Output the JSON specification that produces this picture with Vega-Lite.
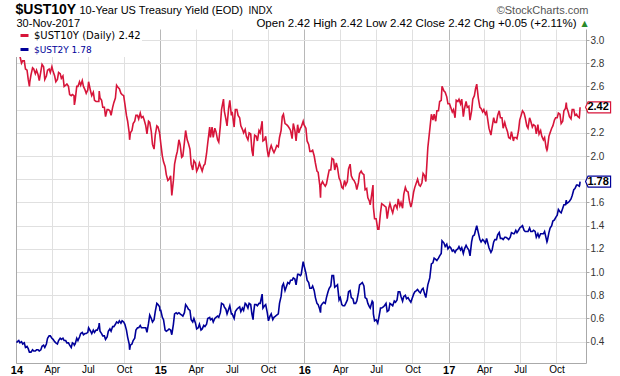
{
  "$schema": "https://vega.github.io/schema/vega-lite/v6.json",
  "width": 570,
  "height": 334,
  "autosize": {"type": "none"},
  "padding": {"left": 16, "top": 29, "right": 34, "bottom": 13},
  "background": "#ffffff",
  "config": {
    "view": {"stroke": null},
    "font": "Liberation Sans",
    "axis": {"labelFont": "Liberation Sans", "titleFont": "Liberation Sans"}
  },
  "data": {
    "format": {"parse": {"date": "date"}},
    "values": [
      {"date":"2014-01-02","y10":3.00,"y2":0.39},
      {"date":"2014-01-03","y10":3.01,"y2":0.40},
      {"date":"2014-01-07","y10":2.94,"y2":0.41},
      {"date":"2014-01-10","y10":2.86,"y2":0.39},
      {"date":"2014-01-14","y10":2.80,"y2":0.40},
      {"date":"2014-01-17","y10":2.82,"y2":0.38},
      {"date":"2014-01-21","y10":2.82,"y2":0.39},
      {"date":"2014-01-24","y10":2.75,"y2":0.35},
      {"date":"2014-01-28","y10":2.74,"y2":0.36},
      {"date":"2014-01-31","y10":2.66,"y2":0.34},
      {"date":"2014-02-03","y10":2.60,"y2":0.31},
      {"date":"2014-02-04","y10":2.64,"y2":0.31},
      {"date":"2014-02-07","y10":2.70,"y2":0.31},
      {"date":"2014-02-11","y10":2.76,"y2":0.33},
      {"date":"2014-02-14","y10":2.75,"y2":0.32},
      {"date":"2014-02-18","y10":2.71,"y2":0.32},
      {"date":"2014-02-21","y10":2.74,"y2":0.33},
      {"date":"2014-02-25","y10":2.70,"y2":0.33},
      {"date":"2014-02-28","y10":2.65,"y2":0.32},
      {"date":"2014-03-04","y10":2.73,"y2":0.33},
      {"date":"2014-03-07","y10":2.79,"y2":0.36},
      {"date":"2014-03-11","y10":2.77,"y2":0.37},
      {"date":"2014-03-14","y10":2.66,"y2":0.35},
      {"date":"2014-03-18","y10":2.69,"y2":0.38},
      {"date":"2014-03-21","y10":2.74,"y2":0.43},
      {"date":"2014-03-25","y10":2.75,"y2":0.45},
      {"date":"2014-03-28","y10":2.72,"y2":0.45},
      {"date":"2014-04-01","y10":2.77,"y2":0.43},
      {"date":"2014-04-04","y10":2.73,"y2":0.42},
      {"date":"2014-04-08","y10":2.69,"y2":0.40},
      {"date":"2014-04-11","y10":2.64,"y2":0.39},
      {"date":"2014-04-15","y10":2.66,"y2":0.38},
      {"date":"2014-04-18","y10":2.72,"y2":0.41},
      {"date":"2014-04-22","y10":2.71,"y2":0.43},
      {"date":"2014-04-25","y10":2.67,"y2":0.42},
      {"date":"2014-04-29","y10":2.69,"y2":0.43},
      {"date":"2014-05-02","y10":2.60,"y2":0.41},
      {"date":"2014-05-06","y10":2.61,"y2":0.41},
      {"date":"2014-05-09","y10":2.62,"y2":0.39},
      {"date":"2014-05-13","y10":2.60,"y2":0.39},
      {"date":"2014-05-16","y10":2.53,"y2":0.37},
      {"date":"2014-05-20","y10":2.52,"y2":0.35},
      {"date":"2014-05-23","y10":2.53,"y2":0.39},
      {"date":"2014-05-27","y10":2.52,"y2":0.38},
      {"date":"2014-05-28","y10":2.44,"y2":0.37},
      {"date":"2014-05-30","y10":2.48,"y2":0.38},
      {"date":"2014-06-03","y10":2.60,"y2":0.43},
      {"date":"2014-06-06","y10":2.60,"y2":0.41},
      {"date":"2014-06-10","y10":2.64,"y2":0.44},
      {"date":"2014-06-13","y10":2.61,"y2":0.47},
      {"date":"2014-06-17","y10":2.65,"y2":0.48},
      {"date":"2014-06-20","y10":2.60,"y2":0.46},
      {"date":"2014-06-24","y10":2.57,"y2":0.47},
      {"date":"2014-06-27","y10":2.54,"y2":0.47},
      {"date":"2014-07-01","y10":2.57,"y2":0.48},
      {"date":"2014-07-03","y10":2.64,"y2":0.52},
      {"date":"2014-07-08","y10":2.56,"y2":0.49},
      {"date":"2014-07-11","y10":2.52,"y2":0.47},
      {"date":"2014-07-15","y10":2.55,"y2":0.50},
      {"date":"2014-07-18","y10":2.48,"y2":0.48},
      {"date":"2014-07-22","y10":2.47,"y2":0.50},
      {"date":"2014-07-25","y10":2.47,"y2":0.50},
      {"date":"2014-07-29","y10":2.47,"y2":0.53},
      {"date":"2014-07-30","y10":2.56,"y2":0.56},
      {"date":"2014-08-01","y10":2.50,"y2":0.49},
      {"date":"2014-08-05","y10":2.48,"y2":0.47},
      {"date":"2014-08-08","y10":2.42,"y2":0.45},
      {"date":"2014-08-12","y10":2.42,"y2":0.45},
      {"date":"2014-08-15","y10":2.34,"y2":0.42},
      {"date":"2014-08-19","y10":2.40,"y2":0.44},
      {"date":"2014-08-22","y10":2.40,"y2":0.49},
      {"date":"2014-08-26","y10":2.39,"y2":0.51},
      {"date":"2014-08-29","y10":2.35,"y2":0.49},
      {"date":"2014-09-02","y10":2.42,"y2":0.53},
      {"date":"2014-09-05","y10":2.46,"y2":0.53},
      {"date":"2014-09-09","y10":2.50,"y2":0.55},
      {"date":"2014-09-12","y10":2.61,"y2":0.57},
      {"date":"2014-09-16","y10":2.59,"y2":0.56},
      {"date":"2014-09-19","y10":2.58,"y2":0.58},
      {"date":"2014-09-23","y10":2.54,"y2":0.56},
      {"date":"2014-09-26","y10":2.53,"y2":0.58},
      {"date":"2014-09-30","y10":2.52,"y2":0.57},
      {"date":"2014-10-03","y10":2.45,"y2":0.55},
      {"date":"2014-10-07","y10":2.35,"y2":0.50},
      {"date":"2014-10-10","y10":2.30,"y2":0.44},
      {"date":"2014-10-14","y10":2.20,"y2":0.38},
      {"date":"2014-10-15","y10":2.14,"y2":0.33},
      {"date":"2014-10-17","y10":2.20,"y2":0.37},
      {"date":"2014-10-21","y10":2.22,"y2":0.38},
      {"date":"2014-10-24","y10":2.28,"y2":0.41},
      {"date":"2014-10-28","y10":2.30,"y2":0.43},
      {"date":"2014-10-31","y10":2.35,"y2":0.50},
      {"date":"2014-11-04","y10":2.35,"y2":0.52},
      {"date":"2014-11-07","y10":2.32,"y2":0.52},
      {"date":"2014-11-11","y10":2.37,"y2":0.54},
      {"date":"2014-11-14","y10":2.33,"y2":0.52},
      {"date":"2014-11-18","y10":2.34,"y2":0.52},
      {"date":"2014-11-21","y10":2.31,"y2":0.52},
      {"date":"2014-11-25","y10":2.26,"y2":0.52},
      {"date":"2014-11-28","y10":2.19,"y2":0.48},
      {"date":"2014-12-02","y10":2.30,"y2":0.56},
      {"date":"2014-12-05","y10":2.29,"y2":0.63},
      {"date":"2014-12-09","y10":2.21,"y2":0.60},
      {"date":"2014-12-12","y10":2.10,"y2":0.57},
      {"date":"2014-12-16","y10":2.06,"y2":0.59},
      {"date":"2014-12-19","y10":2.18,"y2":0.66},
      {"date":"2014-12-23","y10":2.26,"y2":0.73},
      {"date":"2014-12-26","y10":2.25,"y2":0.72},
      {"date":"2014-12-30","y10":2.20,"y2":0.70},
      {"date":"2014-12-31","y10":2.17,"y2":0.67},
      {"date":"2015-01-02","y10":2.11,"y2":0.67},
      {"date":"2015-01-06","y10":2.00,"y2":0.61},
      {"date":"2015-01-09","y10":1.95,"y2":0.59},
      {"date":"2015-01-13","y10":1.91,"y2":0.50},
      {"date":"2015-01-16","y10":1.84,"y2":0.49},
      {"date":"2015-01-20","y10":1.79,"y2":0.50},
      {"date":"2015-01-23","y10":1.80,"y2":0.51},
      {"date":"2015-01-27","y10":1.83,"y2":0.50},
      {"date":"2015-01-30","y10":1.66,"y2":0.46},
      {"date":"2015-02-03","y10":1.79,"y2":0.55},
      {"date":"2015-02-06","y10":1.93,"y2":0.64},
      {"date":"2015-02-10","y10":2.00,"y2":0.65},
      {"date":"2015-02-13","y10":2.04,"y2":0.64},
      {"date":"2015-02-17","y10":2.14,"y2":0.65},
      {"date":"2015-02-20","y10":2.10,"y2":0.64},
      {"date":"2015-02-24","y10":1.99,"y2":0.63},
      {"date":"2015-02-27","y10":2.00,"y2":0.62},
      {"date":"2015-03-03","y10":2.12,"y2":0.65},
      {"date":"2015-03-06","y10":2.22,"y2":0.72},
      {"date":"2015-03-10","y10":2.14,"y2":0.70},
      {"date":"2015-03-13","y10":2.11,"y2":0.68},
      {"date":"2015-03-17","y10":2.06,"y2":0.67},
      {"date":"2015-03-20","y10":1.93,"y2":0.59},
      {"date":"2015-03-24","y10":1.88,"y2":0.57},
      {"date":"2015-03-27","y10":1.96,"y2":0.60},
      {"date":"2015-03-31","y10":1.94,"y2":0.56},
      {"date":"2015-04-03","y10":1.87,"y2":0.51},
      {"date":"2015-04-07","y10":1.90,"y2":0.52},
      {"date":"2015-04-10","y10":1.94,"y2":0.55},
      {"date":"2015-04-14","y10":1.90,"y2":0.50},
      {"date":"2015-04-17","y10":1.87,"y2":0.51},
      {"date":"2015-04-21","y10":1.92,"y2":0.54},
      {"date":"2015-04-24","y10":1.93,"y2":0.53},
      {"date":"2015-04-28","y10":2.02,"y2":0.55},
      {"date":"2015-05-01","y10":2.11,"y2":0.60},
      {"date":"2015-05-06","y10":2.25,"y2":0.61},
      {"date":"2015-05-08","y10":2.16,"y2":0.59},
      {"date":"2015-05-12","y10":2.25,"y2":0.60},
      {"date":"2015-05-15","y10":2.16,"y2":0.57},
      {"date":"2015-05-19","y10":2.24,"y2":0.60},
      {"date":"2015-05-22","y10":2.21,"y2":0.61},
      {"date":"2015-05-26","y10":2.14,"y2":0.62},
      {"date":"2015-05-29","y10":2.12,"y2":0.61},
      {"date":"2015-06-02","y10":2.26,"y2":0.65},
      {"date":"2015-06-05","y10":2.40,"y2":0.73},
      {"date":"2015-06-10","y10":2.49,"y2":0.72},
      {"date":"2015-06-12","y10":2.39,"y2":0.70},
      {"date":"2015-06-16","y10":2.32,"y2":0.68},
      {"date":"2015-06-19","y10":2.26,"y2":0.64},
      {"date":"2015-06-23","y10":2.41,"y2":0.68},
      {"date":"2015-06-26","y10":2.48,"y2":0.71},
      {"date":"2015-06-30","y10":2.35,"y2":0.64},
      {"date":"2015-07-02","y10":2.38,"y2":0.64},
      {"date":"2015-07-07","y10":2.25,"y2":0.60},
      {"date":"2015-07-10","y10":2.40,"y2":0.66},
      {"date":"2015-07-14","y10":2.40,"y2":0.68},
      {"date":"2015-07-17","y10":2.35,"y2":0.69},
      {"date":"2015-07-21","y10":2.33,"y2":0.70},
      {"date":"2015-07-24","y10":2.26,"y2":0.66},
      {"date":"2015-07-28","y10":2.23,"y2":0.69},
      {"date":"2015-07-31","y10":2.20,"y2":0.67},
      {"date":"2015-08-04","y10":2.23,"y2":0.73},
      {"date":"2015-08-07","y10":2.17,"y2":0.72},
      {"date":"2015-08-11","y10":2.14,"y2":0.69},
      {"date":"2015-08-14","y10":2.20,"y2":0.73},
      {"date":"2015-08-18","y10":2.19,"y2":0.72},
      {"date":"2015-08-21","y10":2.05,"y2":0.64},
      {"date":"2015-08-24","y10":2.00,"y2":0.59},
      {"date":"2015-08-25","y10":2.07,"y2":0.64},
      {"date":"2015-08-28","y10":2.18,"y2":0.72},
      {"date":"2015-09-01","y10":2.17,"y2":0.72},
      {"date":"2015-09-04","y10":2.13,"y2":0.71},
      {"date":"2015-09-08","y10":2.22,"y2":0.73},
      {"date":"2015-09-11","y10":2.20,"y2":0.73},
      {"date":"2015-09-16","y10":2.30,"y2":0.81},
      {"date":"2015-09-18","y10":2.13,"y2":0.69},
      {"date":"2015-09-22","y10":2.14,"y2":0.71},
      {"date":"2015-09-25","y10":2.17,"y2":0.72},
      {"date":"2015-09-29","y10":2.05,"y2":0.65},
      {"date":"2015-10-02","y10":1.99,"y2":0.58},
      {"date":"2015-10-06","y10":2.06,"y2":0.62},
      {"date":"2015-10-09","y10":2.09,"y2":0.64},
      {"date":"2015-10-13","y10":2.05,"y2":0.59},
      {"date":"2015-10-16","y10":2.03,"y2":0.61},
      {"date":"2015-10-20","y10":2.06,"y2":0.62},
      {"date":"2015-10-23","y10":2.09,"y2":0.63},
      {"date":"2015-10-27","y10":2.08,"y2":0.64},
      {"date":"2015-10-30","y10":2.16,"y2":0.73},
      {"date":"2015-11-03","y10":2.22,"y2":0.79},
      {"date":"2015-11-06","y10":2.34,"y2":0.88},
      {"date":"2015-11-09","y10":2.36,"y2":0.90},
      {"date":"2015-11-13","y10":2.28,"y2":0.84},
      {"date":"2015-11-17","y10":2.27,"y2":0.88},
      {"date":"2015-11-20","y10":2.26,"y2":0.91},
      {"date":"2015-11-24","y10":2.24,"y2":0.90},
      {"date":"2015-11-27","y10":2.22,"y2":0.93},
      {"date":"2015-12-01","y10":2.15,"y2":0.93},
      {"date":"2015-12-04","y10":2.28,"y2":0.95},
      {"date":"2015-12-08","y10":2.22,"y2":0.94},
      {"date":"2015-12-11","y10":2.13,"y2":0.89},
      {"date":"2015-12-15","y10":2.27,"y2":0.98},
      {"date":"2015-12-18","y10":2.20,"y2":0.98},
      {"date":"2015-12-22","y10":2.24,"y2":0.97},
      {"date":"2015-12-24","y10":2.25,"y2":0.98},
      {"date":"2015-12-29","y10":2.30,"y2":1.09},
      {"date":"2015-12-31","y10":2.27,"y2":1.06},
      {"date":"2016-01-05","y10":2.24,"y2":0.99},
      {"date":"2016-01-08","y10":2.13,"y2":0.93},
      {"date":"2016-01-12","y10":2.10,"y2":0.91},
      {"date":"2016-01-15","y10":2.04,"y2":0.86},
      {"date":"2016-01-19","y10":2.04,"y2":0.86},
      {"date":"2016-01-22","y10":2.05,"y2":0.88},
      {"date":"2016-01-26","y10":2.00,"y2":0.84},
      {"date":"2016-01-29","y10":1.94,"y2":0.78},
      {"date":"2016-02-02","y10":1.87,"y2":0.73},
      {"date":"2016-02-05","y10":1.86,"y2":0.72},
      {"date":"2016-02-09","y10":1.75,"y2":0.68},
      {"date":"2016-02-11","y10":1.64,"y2":0.65},
      {"date":"2016-02-12","y10":1.75,"y2":0.71},
      {"date":"2016-02-16","y10":1.78,"y2":0.73},
      {"date":"2016-02-19","y10":1.76,"y2":0.74},
      {"date":"2016-02-23","y10":1.74,"y2":0.73},
      {"date":"2016-02-26","y10":1.76,"y2":0.78},
      {"date":"2016-03-01","y10":1.83,"y2":0.83},
      {"date":"2016-03-04","y10":1.88,"y2":0.86},
      {"date":"2016-03-08","y10":1.88,"y2":0.88},
      {"date":"2016-03-11","y10":1.98,"y2":0.97},
      {"date":"2016-03-15","y10":1.97,"y2":0.97},
      {"date":"2016-03-18","y10":1.88,"y2":0.87},
      {"date":"2016-03-22","y10":1.94,"y2":0.88},
      {"date":"2016-03-25","y10":1.90,"y2":0.89},
      {"date":"2016-03-29","y10":1.81,"y2":0.76},
      {"date":"2016-04-01","y10":1.79,"y2":0.78},
      {"date":"2016-04-05","y10":1.73,"y2":0.72},
      {"date":"2016-04-08","y10":1.72,"y2":0.71},
      {"date":"2016-04-12","y10":1.79,"y2":0.71},
      {"date":"2016-04-15","y10":1.75,"y2":0.73},
      {"date":"2016-04-19","y10":1.78,"y2":0.76},
      {"date":"2016-04-22","y10":1.89,"y2":0.83},
      {"date":"2016-04-26","y10":1.93,"y2":0.84},
      {"date":"2016-04-29","y10":1.83,"y2":0.78},
      {"date":"2016-05-03","y10":1.80,"y2":0.77},
      {"date":"2016-05-06","y10":1.79,"y2":0.73},
      {"date":"2016-05-10","y10":1.76,"y2":0.73},
      {"date":"2016-05-13","y10":1.71,"y2":0.75},
      {"date":"2016-05-17","y10":1.77,"y2":0.82},
      {"date":"2016-05-20","y10":1.85,"y2":0.89},
      {"date":"2016-05-24","y10":1.87,"y2":0.90},
      {"date":"2016-05-27","y10":1.85,"y2":0.91},
      {"date":"2016-05-31","y10":1.84,"y2":0.88},
      {"date":"2016-06-03","y10":1.71,"y2":0.78},
      {"date":"2016-06-07","y10":1.72,"y2":0.77},
      {"date":"2016-06-10","y10":1.64,"y2":0.73},
      {"date":"2016-06-14","y10":1.61,"y2":0.70},
      {"date":"2016-06-16","y10":1.58,"y2":0.69},
      {"date":"2016-06-21","y10":1.70,"y2":0.75},
      {"date":"2016-06-23","y10":1.75,"y2":0.74},
      {"date":"2016-06-24","y10":1.56,"y2":0.64},
      {"date":"2016-06-27","y10":1.46,"y2":0.58},
      {"date":"2016-07-01","y10":1.46,"y2":0.59},
      {"date":"2016-07-05","y10":1.37,"y2":0.56},
      {"date":"2016-07-08","y10":1.37,"y2":0.61},
      {"date":"2016-07-12","y10":1.51,"y2":0.69},
      {"date":"2016-07-15","y10":1.59,"y2":0.69},
      {"date":"2016-07-19","y10":1.58,"y2":0.70},
      {"date":"2016-07-22","y10":1.57,"y2":0.71},
      {"date":"2016-07-26","y10":1.56,"y2":0.73},
      {"date":"2016-07-29","y10":1.46,"y2":0.66},
      {"date":"2016-08-02","y10":1.55,"y2":0.67},
      {"date":"2016-08-05","y10":1.59,"y2":0.73},
      {"date":"2016-08-09","y10":1.54,"y2":0.72},
      {"date":"2016-08-12","y10":1.51,"y2":0.71},
      {"date":"2016-08-16","y10":1.57,"y2":0.75},
      {"date":"2016-08-19","y10":1.58,"y2":0.74},
      {"date":"2016-08-23","y10":1.55,"y2":0.76},
      {"date":"2016-08-26","y10":1.63,"y2":0.83},
      {"date":"2016-08-30","y10":1.57,"y2":0.83},
      {"date":"2016-09-02","y10":1.60,"y2":0.79},
      {"date":"2016-09-06","y10":1.55,"y2":0.75},
      {"date":"2016-09-09","y10":1.67,"y2":0.79},
      {"date":"2016-09-13","y10":1.73,"y2":0.80},
      {"date":"2016-09-16","y10":1.70,"y2":0.77},
      {"date":"2016-09-20","y10":1.69,"y2":0.78},
      {"date":"2016-09-23","y10":1.62,"y2":0.76},
      {"date":"2016-09-27","y10":1.56,"y2":0.74},
      {"date":"2016-09-30","y10":1.60,"y2":0.77},
      {"date":"2016-10-04","y10":1.69,"y2":0.81},
      {"date":"2016-10-07","y10":1.73,"y2":0.83},
      {"date":"2016-10-11","y10":1.77,"y2":0.84},
      {"date":"2016-10-14","y10":1.80,"y2":0.85},
      {"date":"2016-10-18","y10":1.75,"y2":0.83},
      {"date":"2016-10-21","y10":1.74,"y2":0.82},
      {"date":"2016-10-25","y10":1.77,"y2":0.85},
      {"date":"2016-10-28","y10":1.85,"y2":0.86},
      {"date":"2016-11-01","y10":1.83,"y2":0.81},
      {"date":"2016-11-04","y10":1.78,"y2":0.78},
      {"date":"2016-11-09","y10":2.07,"y2":0.89},
      {"date":"2016-11-14","y10":2.23,"y2":0.95},
      {"date":"2016-11-18","y10":2.36,"y2":1.07},
      {"date":"2016-11-22","y10":2.31,"y2":1.08},
      {"date":"2016-11-25","y10":2.36,"y2":1.12},
      {"date":"2016-11-29","y10":2.30,"y2":1.11},
      {"date":"2016-12-02","y10":2.39,"y2":1.10},
      {"date":"2016-12-06","y10":2.39,"y2":1.12},
      {"date":"2016-12-09","y10":2.47,"y2":1.14},
      {"date":"2016-12-13","y10":2.48,"y2":1.16},
      {"date":"2016-12-15","y10":2.60,"y2":1.27},
      {"date":"2016-12-20","y10":2.56,"y2":1.25},
      {"date":"2016-12-23","y10":2.55,"y2":1.22},
      {"date":"2016-12-27","y10":2.51,"y2":1.24},
      {"date":"2016-12-30","y10":2.45,"y2":1.20},
      {"date":"2017-01-03","y10":2.45,"y2":1.22},
      {"date":"2017-01-06","y10":2.42,"y2":1.21},
      {"date":"2017-01-10","y10":2.38,"y2":1.18},
      {"date":"2017-01-13","y10":2.40,"y2":1.19},
      {"date":"2017-01-17","y10":2.33,"y2":1.17},
      {"date":"2017-01-20","y10":2.48,"y2":1.19},
      {"date":"2017-01-24","y10":2.47,"y2":1.20},
      {"date":"2017-01-27","y10":2.49,"y2":1.22},
      {"date":"2017-01-31","y10":2.45,"y2":1.19},
      {"date":"2017-02-03","y10":2.49,"y2":1.21},
      {"date":"2017-02-07","y10":2.34,"y2":1.16},
      {"date":"2017-02-10","y10":2.41,"y2":1.20},
      {"date":"2017-02-14","y10":2.47,"y2":1.23},
      {"date":"2017-02-17","y10":2.42,"y2":1.21},
      {"date":"2017-02-21","y10":2.43,"y2":1.19},
      {"date":"2017-02-24","y10":2.31,"y2":1.14},
      {"date":"2017-02-28","y10":2.39,"y2":1.26},
      {"date":"2017-03-03","y10":2.49,"y2":1.31},
      {"date":"2017-03-07","y10":2.52,"y2":1.32},
      {"date":"2017-03-10","y10":2.58,"y2":1.36},
      {"date":"2017-03-13","y10":2.62,"y2":1.40},
      {"date":"2017-03-17","y10":2.50,"y2":1.34},
      {"date":"2017-03-21","y10":2.42,"y2":1.28},
      {"date":"2017-03-24","y10":2.41,"y2":1.26},
      {"date":"2017-03-28","y10":2.38,"y2":1.28},
      {"date":"2017-03-31","y10":2.40,"y2":1.27},
      {"date":"2017-04-04","y10":2.36,"y2":1.25},
      {"date":"2017-04-07","y10":2.38,"y2":1.29},
      {"date":"2017-04-13","y10":2.24,"y2":1.21},
      {"date":"2017-04-18","y10":2.18,"y2":1.17},
      {"date":"2017-04-21","y10":2.25,"y2":1.19},
      {"date":"2017-04-25","y10":2.33,"y2":1.26},
      {"date":"2017-04-28","y10":2.29,"y2":1.28},
      {"date":"2017-05-02","y10":2.29,"y2":1.28},
      {"date":"2017-05-05","y10":2.35,"y2":1.32},
      {"date":"2017-05-09","y10":2.39,"y2":1.34},
      {"date":"2017-05-12","y10":2.33,"y2":1.29},
      {"date":"2017-05-16","y10":2.33,"y2":1.29},
      {"date":"2017-05-19","y10":2.24,"y2":1.28},
      {"date":"2017-05-23","y10":2.29,"y2":1.30},
      {"date":"2017-05-26","y10":2.25,"y2":1.30},
      {"date":"2017-05-30","y10":2.21,"y2":1.29},
      {"date":"2017-06-02","y10":2.16,"y2":1.28},
      {"date":"2017-06-06","y10":2.15,"y2":1.30},
      {"date":"2017-06-09","y10":2.21,"y2":1.34},
      {"date":"2017-06-14","y10":2.13,"y2":1.33},
      {"date":"2017-06-16","y10":2.16,"y2":1.33},
      {"date":"2017-06-20","y10":2.16,"y2":1.36},
      {"date":"2017-06-23","y10":2.15,"y2":1.34},
      {"date":"2017-06-27","y10":2.22,"y2":1.36},
      {"date":"2017-06-30","y10":2.31,"y2":1.38},
      {"date":"2017-07-07","y10":2.39,"y2":1.40},
      {"date":"2017-07-11","y10":2.37,"y2":1.36},
      {"date":"2017-07-14","y10":2.33,"y2":1.35},
      {"date":"2017-07-18","y10":2.26,"y2":1.35},
      {"date":"2017-07-21","y10":2.24,"y2":1.35},
      {"date":"2017-07-25","y10":2.33,"y2":1.38},
      {"date":"2017-07-28","y10":2.30,"y2":1.35},
      {"date":"2017-08-01","y10":2.25,"y2":1.35},
      {"date":"2017-08-04","y10":2.27,"y2":1.36},
      {"date":"2017-08-08","y10":2.26,"y2":1.35},
      {"date":"2017-08-11","y10":2.19,"y2":1.30},
      {"date":"2017-08-15","y10":2.27,"y2":1.33},
      {"date":"2017-08-18","y10":2.19,"y2":1.30},
      {"date":"2017-08-22","y10":2.22,"y2":1.33},
      {"date":"2017-08-25","y10":2.17,"y2":1.33},
      {"date":"2017-08-29","y10":2.14,"y2":1.33},
      {"date":"2017-09-01","y10":2.16,"y2":1.35},
      {"date":"2017-09-05","y10":2.07,"y2":1.29},
      {"date":"2017-09-07","y10":2.05,"y2":1.26},
      {"date":"2017-09-08","y10":2.06,"y2":1.27},
      {"date":"2017-09-12","y10":2.17,"y2":1.34},
      {"date":"2017-09-15","y10":2.20,"y2":1.38},
      {"date":"2017-09-19","y10":2.24,"y2":1.40},
      {"date":"2017-09-22","y10":2.26,"y2":1.44},
      {"date":"2017-09-26","y10":2.31,"y2":1.45},
      {"date":"2017-09-29","y10":2.33,"y2":1.47},
      {"date":"2017-10-03","y10":2.33,"y2":1.49},
      {"date":"2017-10-06","y10":2.37,"y2":1.54},
      {"date":"2017-10-10","y10":2.36,"y2":1.52},
      {"date":"2017-10-13","y10":2.28,"y2":1.51},
      {"date":"2017-10-17","y10":2.30,"y2":1.55},
      {"date":"2017-10-20","y10":2.39,"y2":1.58},
      {"date":"2017-10-24","y10":2.41,"y2":1.58},
      {"date":"2017-10-26","y10":2.46,"y2":1.62},
      {"date":"2017-10-27","y10":2.42,"y2":1.59},
      {"date":"2017-10-31","y10":2.38,"y2":1.60},
      {"date":"2017-11-03","y10":2.34,"y2":1.61},
      {"date":"2017-11-07","y10":2.32,"y2":1.63},
      {"date":"2017-11-10","y10":2.40,"y2":1.66},
      {"date":"2017-11-14","y10":2.40,"y2":1.71},
      {"date":"2017-11-17","y10":2.35,"y2":1.72},
      {"date":"2017-11-21","y10":2.36,"y2":1.75},
      {"date":"2017-11-24","y10":2.34,"y2":1.75},
      {"date":"2017-11-28","y10":2.33,"y2":1.74},
      {"date":"2017-11-29","y10":2.37,"y2":1.75},
      {"date":"2017-11-30","y10":2.42,"y2":1.78}
    ]
  },
  "layer": [
    {
      "mark": {"type": "line", "strokeWidth": 1.6},
      "encoding": {
        "x": {
          "field": "date", "type": "temporal",
          "scale": {"domain": [{"year": 2013, "month": 12, "date": 31}, {"year": 2017, "month": 12, "date": 15}]},
          "axis": {
            "orient": "bottom", "title": null,
            "tickCount": {"interval": "month", "step": 3},
            "labelExpr": "month(datum.value) == 0 ? timeFormat(datum.value, '%y') : timeFormat(datum.value, '%b')",
            "labelFontWeight": {"condition": {"test": "month(datum.value) == 0", "value": "bold"}, "value": "normal"},
            "labelFontSize": {"condition": {"test": "month(datum.value) == 0", "value": 11}, "value": 10},
            "labelColor": "#000000",
            "labelFlush": false, "labelOverlap": false, "labelPadding": 1,
            "ticks": false,
            "domain": true, "domainColor": "#aaaaaa",
            "grid": true,
            "gridColor": {"condition": {"test": "month(datum.value) == 0", "value": "#b8b8b8"}, "value": "#e0e0e0"},
            "gridWidth": 1
          }
        },
        "y": {
          "field": "y10", "type": "quantitative",
          "scale": {"domain": [0.2164, 3.0948], "nice": false, "zero": false},
          "axis": {
            "orient": "right", "title": null,
            "values": [0.4, 0.6, 0.8, 1.0, 1.2, 1.4, 1.6, 1.8, 2.0, 2.2, 2.4, 2.6, 2.8, 3.0],
            "labelExpr": "datum.value == 2.4 || datum.value == 1.8 ? '' : format(datum.value, '.1f')",
            "grid": true, "gridColor": "#e0e0e0",
            "domain": true, "domainColor": "#aaaaaa",
            "ticks": true, "tickColor": "#aaaaaa", "tickSize": 3,
            "labelPadding": 1, "labelFontSize": 10, "labelColor": "#333333"
          }
        },
        "color": {
          "datum": "$UST10Y (Daily) 2.42",
          "scale": {"domain": ["$UST10Y (Daily) 2.42", "$UST2Y 1.78"], "range": ["#d7153a", "#000099"]},
          "legend": {
            "title": null, "orient": "top-left", "offset": 0, "padding": 1,
            "fillColor": "#ffffff",
            "symbolType": "stroke", "symbolStrokeWidth": 3, "symbolSize": 64, "symbolOffset": 2,
            "labelFont": "DejaVu Sans", "labelFontSize": 10, "labelOffset": 4, "rowPadding": 1,
            "labelColor": "#000000", "labelLimit": 300,
            "encode": {
              "labels": {
                "update": {
                  "fill": {"signal": "datum.label === '$UST2Y 1.78' ? '#000099' : '#000000'"},
                  "fontSize": {"signal": "datum.label === '$UST2Y 1.78' ? 9 : 10"}
                }
              }
            }
          }
        }
      }
    },
    {
      "mark": {"type": "line", "strokeWidth": 1.6},
      "encoding": {
        "x": {
          "field": "date", "type": "temporal",
          "scale": {"domain": [{"year": 2013, "month": 12, "date": 31}, {"year": 2017, "month": 12, "date": 15}]},
          "axis": {
            "orient": "top", "labels": false, "ticks": false, "domain": false, "grid": false,
            "title": "10-Year US Treasury Yield (EOD)",
            "titleX": 63, "titleY": -16, "titleAlign": "left", "titleBaseline": "alphabetic", "titleAngle": 0,
            "titleFontSize": 11, "titleFontWeight": "normal", "titleColor": "#000000"
          }
        },
        "y": {
          "field": "y2", "type": "quantitative",
          "scale": {"domain": [0.2164, 3.0948], "nice": false, "zero": false},
          "axis": {
            "orient": "left", "labels": false, "ticks": false, "domain": true, "domainColor": "#aaaaaa", "grid": false,
            "title": "INDX",
            "titleX": 232, "titleY": -16, "titleAlign": "left", "titleBaseline": "alphabetic", "titleAngle": 0,
            "titleFontSize": 10, "titleFontWeight": "normal", "titleColor": "#000000"
          }
        },
        "color": {"datum": "$UST2Y 1.78"}
      }
    },
    {
      "transform": [
        {"joinaggregate": [{"op": "max", "field": "date", "as": "maxd"}]},
        {"filter": "time(datum.date) == time(datum.maxd)"}
      ],
      "mark": {"type": "point", "shape": "M-1,0L-0.8,-0.44L1,-0.44L1,0.44L-0.8,0.44Z", "size": 625, "filled": true, "fill": "#ffffff", "stroke": "#d7153a", "strokeWidth": 1.2, "opacity": 1, "xOffset": 18},
      "encoding": {
        "x": {
          "field": "date", "type": "temporal",
          "scale": {"domain": [{"year": 2013, "month": 12, "date": 31}, {"year": 2017, "month": 12, "date": 15}]},
          "axis": {
            "orient": "top", "labels": false, "ticks": false, "domain": false, "grid": false,
            "title": "$UST10Y",
            "titleX": -1, "titleY": -16, "titleAlign": "left", "titleBaseline": "alphabetic", "titleAngle": 0,
            "titleFontSize": 14, "titleFontWeight": "bold", "titleColor": "#000000"
          }
        },
        "y": {
          "field": "y10", "type": "quantitative",
          "scale": {"domain": [0.2164, 3.0948], "nice": false, "zero": false},
          "axis": {
            "orient": "left", "labels": false, "ticks": false, "domain": false, "grid": false,
            "title": "30-Nov-2017",
            "titleX": 0, "titleY": -3, "titleAlign": "left", "titleBaseline": "alphabetic", "titleAngle": 0,
            "titleFontSize": 11, "titleFontWeight": "normal", "titleColor": "#000000"
          }
        }
      }
    },
    {
      "transform": [
        {"joinaggregate": [{"op": "max", "field": "date", "as": "maxd"}]},
        {"filter": "time(datum.date) == time(datum.maxd)"}
      ],
      "mark": {"type": "point", "shape": "M-1,0L-0.8,-0.44L1,-0.44L1,0.44L-0.8,0.44Z", "size": 625, "filled": true, "fill": "#ffffff", "stroke": "#000099", "strokeWidth": 1.2, "opacity": 1, "xOffset": 18},
      "encoding": {
        "x": {
          "field": "date", "type": "temporal",
          "scale": {"domain": [{"year": 2013, "month": 12, "date": 31}, {"year": 2017, "month": 12, "date": 15}]},
          "axis": {
            "orient": "top", "labels": false, "ticks": false, "domain": false, "grid": false,
            "title": "©StockCharts.com",
            "titleX": 572, "titleY": -16, "titleAlign": "right", "titleBaseline": "alphabetic", "titleAngle": 0,
            "titleFontSize": 11, "titleFontWeight": "normal", "titleColor": "#555555"
          }
        },
        "y": {
          "field": "y2", "type": "quantitative",
          "scale": {"domain": [0.2164, 3.0948], "nice": false, "zero": false},
          "axis": {
            "orient": "left", "labels": false, "ticks": false, "domain": false, "grid": false,
            "title": "Open 2.42  High 2.42  Low 2.42  Close 2.42  Chg +0.05 (+2.11%)",
            "titleX": 560, "titleY": -3, "titleAlign": "right", "titleBaseline": "alphabetic", "titleAngle": 0,
            "titleFontSize": 11.5, "titleFontWeight": "normal", "titleColor": "#000000"
          }
        }
      }
    },
    {
      "transform": [
        {"joinaggregate": [{"op": "max", "field": "date", "as": "maxd"}]},
        {"filter": "time(datum.date) == time(datum.maxd)"}
      ],
      "mark": {"type": "text", "font": "Liberation Sans", "fontSize": 11, "fontWeight": "bold", "dx": 18, "align": "center", "baseline": "middle", "color": "#000000"},
      "encoding": {
        "x": {
          "field": "date", "type": "temporal",
          "scale": {"domain": [{"year": 2013, "month": 12, "date": 31}, {"year": 2017, "month": 12, "date": 15}]},
          "axis": {
            "orient": "top", "labels": false, "ticks": false, "domain": false, "grid": false,
            "title": "▲",
            "titleX": 568, "titleY": -4, "titleAlign": "center", "titleBaseline": "alphabetic", "titleAngle": 0,
            "titleFont": "DejaVu Sans", "titleFontSize": 8, "titleFontWeight": "normal", "titleColor": "#2a8a2a"
          }
        },
        "y": {
          "field": "y10", "type": "quantitative",
          "scale": {"domain": [0.2164, 3.0948], "nice": false, "zero": false},
          "axis": null
        },
        "text": {"field": "y10", "type": "quantitative", "format": ".2f"}
      }
    },
    {
      "transform": [
        {"joinaggregate": [{"op": "max", "field": "date", "as": "maxd"}]},
        {"filter": "time(datum.date) == time(datum.maxd)"}
      ],
      "mark": {"type": "text", "font": "Liberation Sans", "fontSize": 11, "fontWeight": "bold", "dx": 18, "align": "center", "baseline": "middle", "color": "#000000"},
      "encoding": {
        "x": {
          "field": "date", "type": "temporal",
          "scale": {"domain": [{"year": 2013, "month": 12, "date": 31}, {"year": 2017, "month": 12, "date": 15}]},
          "axis": null
        },
        "y": {
          "field": "y2", "type": "quantitative",
          "scale": {"domain": [0.2164, 3.0948], "nice": false, "zero": false},
          "axis": null
        },
        "text": {"field": "y2", "type": "quantitative", "format": ".2f"}
      }
    }
  ],
  "resolve": {"axis": {"x": "independent", "y": "independent"}}
}
